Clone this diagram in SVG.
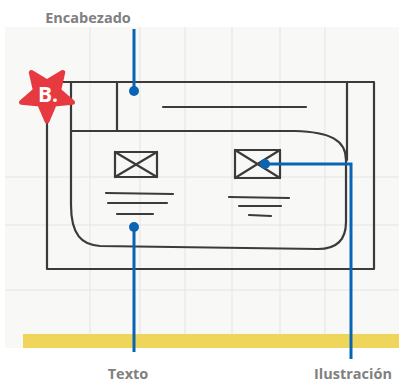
<svg xmlns="http://www.w3.org/2000/svg" width="399" height="384" viewBox="0 0 399 384">
<style>
.lbl{font-family:"Open Sans","Liberation Sans",sans-serif;font-weight:bold;font-size:14.5px;fill:#808080;text-anchor:middle}
.sk{fill:none;stroke:#3b3b3b;stroke-width:2.2;stroke-linecap:round;stroke-linejoin:round}
.grid{stroke:#e4e4e4;stroke-width:1}
.con{fill:none;stroke:#0a64b4;stroke-width:3}
.dot{fill:#0a64b4}
</style>
<rect width="399" height="384" fill="#ffffff"/>
<g id="paper">
<rect x="5" y="27" width="394" height="321" fill="#f8f8f6"/>
<g class="grid">
<line x1="90" y1="27" x2="90" y2="334"/>
<line x1="140" y1="27" x2="140" y2="334"/>
<line x1="185" y1="27" x2="185" y2="334"/>
<line x1="232" y1="27" x2="232" y2="334"/>
<line x1="280" y1="27" x2="280" y2="334"/>
<line x1="325" y1="27" x2="325" y2="334"/>
<line x1="5" y1="177" x2="399" y2="177"/>
<line x1="5" y1="225" x2="399" y2="225"/>
<line x1="5" y1="290" x2="399" y2="290"/>
</g>
<rect x="23" y="334" width="376" height="14" fill="#efd65a"/>
</g>
<g id="wireframe">
<rect class="sk" x="47" y="82" width="327" height="187"/>
<path class="sk" d="M71,82 L71,205 C71,235 82,245 100,246 L318,249 C336,249 346,240 346,222 L346,160 C346,140 330,132 295,131 L71,131"/>
<line class="sk" x1="347" y1="82" x2="347" y2="160"/>
<line class="sk" x1="117" y1="82" x2="117" y2="131"/>
<line class="sk" x1="163" y1="107" x2="306" y2="107"/>
<g id="img-left">
<rect class="sk" x="115" y="152" width="42" height="25"/>
<path class="sk" d="M115,152 L157,177 M157,152 L115,177"/>
</g>
<g id="text-left">
<line class="sk" x1="106" y1="193" x2="173" y2="194"/>
<line class="sk" x1="108" y1="203" x2="167" y2="203"/>
<line class="sk" x1="117" y1="214" x2="153" y2="214"/>
</g>
<g id="img-right">
<rect class="sk" x="235" y="150" width="45" height="28"/>
<path class="sk" d="M235,150 L280,178 M280,150 L235,178"/>
</g>
<g id="text-right">
<line class="sk" x1="229" y1="197" x2="289" y2="198"/>
<line class="sk" x1="239" y1="206" x2="281" y2="206"/>
<line class="sk" x1="249" y1="215" x2="271" y2="216"/>
</g>
</g>
<g id="badge">
<polygon points="47,121 54.3,104 72.5,102.3 58.7,90.3 62.7,72.5 47,81.8 31.3,72.5 35.3,90.3 21.5,102.3 39.7,104" fill="#e63a40" stroke="#e63a40" stroke-width="5" stroke-linejoin="round"/>
<text x="48" y="102" font-family="'Open Sans','Liberation Sans',sans-serif" font-weight="bold" font-size="21" fill="#ffffff" text-anchor="middle">B.</text>
</g>
<g id="connectors">
<line class="con" x1="134" y1="29" x2="134" y2="91"/>
<circle class="dot" cx="134" cy="91" r="5"/>
<line class="con" x1="134" y1="227" x2="134" y2="352"/>
<circle class="dot" cx="134" cy="227" r="5"/>
<path class="con" d="M265,164 L351,164 L351,359"/>
<circle class="dot" cx="265" cy="164" r="5"/>
</g>
<g id="labels">
<text class="lbl" x="88" y="23">Encabezado</text>
<text class="lbl" x="128" y="379">Texto</text>
<text class="lbl" x="353" y="379">Ilustración</text>
</g>
</svg>
